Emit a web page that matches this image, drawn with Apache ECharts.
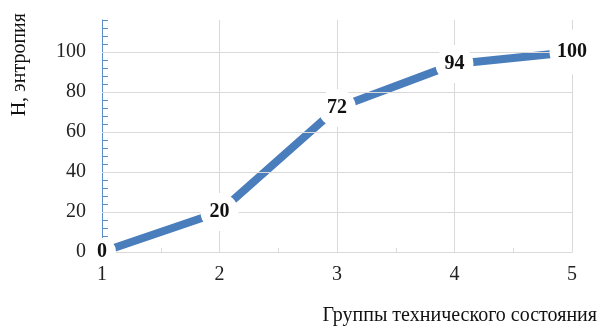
<!DOCTYPE html>
<html>
<head>
<meta charset="utf-8">
<script src="https://cdn.jsdelivr.net/npm/echarts@6/dist/echarts.min.js"></script>
<style>
    html, body { margin: 0; padding: 0; background: #fff; }
    #chart { width: 603px; height: 327px; }
</style>
</head>
<body>
<div id="chart"></div>
<script>
    // данные графика
    var groups = [1, 2, 3, 4, 5];
    var entropy = [0, 20, 72, 94, 100];
    var yGridValues = [20, 40, 60, 80, 100];
    var yTitle = 'H, энтропия';
    var xTitle = 'Группы технического состояния';

    var serif = '"Liberation Serif", "DejaVu Serif", serif';
    var gridColor = '#d9d9d9';
    var lineColor = '#4a7dbc';

    var points = groups.map(function (g, i) { return [g, entropy[i]]; });

    var chart = echarts.init(document.getElementById('chart'));

    var option = {
        animation: false,
        backgroundColor: '#fff',
        grid: { left: 102, right: 31, top: 20, bottom: 75 },
        xAxis: {
            type: 'value',
            min: 1,
            max: 5,
            interval: 1,
            axisLine: { show: true, lineStyle: { color: gridColor, width: 1 } },
            axisTick: { show: true, inside: true, length: 4, lineStyle: { color: gridColor } },
            minorTick: { show: true, splitNumber: 2, length: 4, lineStyle: { color: gridColor } },
            axisLabel: { color: '#222', fontFamily: serif, fontSize: 20, margin: 13 },
            splitLine: { show: true, lineStyle: { color: gridColor, width: 1 } }
        },
        yAxis: {
            type: 'value',
            min: 0,
            max: 116,
            interval: 4,
            axisLine: { show: true, lineStyle: { color: '#5b8fc9', width: 1 } },
            axisTick: { show: true, inside: true, length: 6, lineStyle: { color: '#5b8fc9' } },
            axisLabel: {
                color: '#222',
                fontFamily: serif,
                fontSize: 20,
                margin: 16,
                formatter: function (v) {
                    return (v % 20 === 0 && v <= 100) ? String(v) : '';
                }
            },
            splitLine: { show: false }
        },
        graphic: [
            {
                type: 'text',
                left: 10,
                top: 13,
                rotation: Math.PI / 2,
                style: { text: yTitle, fontFamily: serif, fontSize: 20, fill: '#111' }
            },
            {
                type: 'text',
                right: 6,
                top: 306,
                style: { text: xTitle, fontFamily: serif, fontSize: 20, fill: '#111' }
            }
        ],
        series: [
            {
                // горизонтальная сетка
                type: 'line',
                data: [],
                z: 1,
                silent: true,
                markLine: {
                    silent: true,
                    symbol: 'none',
                    label: { show: false },
                    lineStyle: { color: gridColor, width: 1, type: 'solid' },
                    data: yGridValues.map(function (v) { return { yAxis: v }; })
                }
            },
            {
                type: 'line',
                z: 3,
                data: points,
                symbol: 'none',
                lineStyle: { color: lineColor, width: 8, cap: 'butt' }
            },
            {
                // белые подложки и подписи значений поверх линии
                type: 'scatter',
                z: 5,
                silent: true,
                data: points,
                symbol: 'circle',
                symbolSize: function (v, p) {
                    if (p.dataIndex === 0) return 28;
                    return 24 + 7 * String(v[1]).length;
                },
                itemStyle: { color: '#fff', opacity: 1 },
                label: {
                    show: true,
                    position: 'inside',
                    color: '#111',
                    fontFamily: serif,
                    fontWeight: 'bold',
                    fontSize: 20
                }
            }
        ]
    };

    chart.setOption(option);
</script>
</body>
</html>
